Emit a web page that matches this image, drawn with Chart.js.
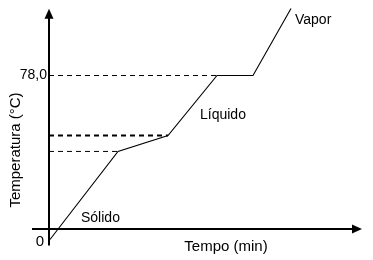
<!DOCTYPE html>
<html>
<head>
<meta charset="utf-8">
<script src="https://cdn.jsdelivr.net/npm/chart.js@4.4.1/dist/chart.umd.min.js"></script>
<style>
	body{ margin:0; background:#fff; }
	#grafico{ display:block; }
</style>
</head>
<body>
<canvas id="grafico" width="373" height="260"></canvas>
<script>
// curva de aquecimento
var tempo = [0.1, 6.9, 11.9, 16.8, 20.4, 24.2];
var temperatura = [-5.6, 39.3, 47.4, 78.0, 78.0, 112.2];

// linhas tracejadas (ate o ponto da curva)
var tracejadoY = [39.3, 47.4, 78.0];
var tracejadoX = [6.9, 11.9, 16.8];

var rotulosY = ['78,0'];
var valoresRotulosY = [78.0];
var fases = ['Sólido', 'Líquido', 'Vapor'];

var tituloX = 'Tempo (min)';
var tituloY = 'Temperatura (°C)';

var fonte = '"Liberation Sans", Arial, sans-serif';

function seta(ctx, x, y, dir){
	ctx.beginPath();
	if(dir == 'cima'){
		ctx.moveTo(x, y);
		ctx.lineTo(x-4.5, y+10);
		ctx.lineTo(x+4.5, y+10);
	} else {
		ctx.moveTo(x, y);
		ctx.lineTo(x-10, y-4.5);
		ctx.lineTo(x-10, y+4.5);
	}
	ctx.closePath();
	ctx.fill();
}

var eixos = {
	id: 'eixos',
	beforeDatasetsDraw: function(chart){
		var ctx = chart.ctx;
		var sx = chart.scales.x, sy = chart.scales.y;
		var x0 = Math.round(sx.getPixelForValue(0));
		var y0 = Math.round(sy.getPixelForValue(0));
		ctx.save();
		ctx.strokeStyle = '#000';
		ctx.fillStyle = '#000';
		ctx.lineWidth = 2;
		// eixo x
		ctx.beginPath();
		ctx.moveTo(sx.getPixelForValue(-1.7), y0);
		ctx.lineTo(sx.getPixelForValue(30.8), y0);
		ctx.stroke();
		seta(ctx, sx.getPixelForValue(31.3), y0, 'dir');
		// eixo y
		ctx.beginPath();
		ctx.moveTo(x0, sy.getPixelForValue(-8.7));
		ctx.lineTo(x0, sy.getPixelForValue(108));
		ctx.stroke();
		seta(ctx, x0, sy.getPixelForValue(112), 'cima');
		ctx.restore();
	},
	afterDraw: function(chart){
		var ctx = chart.ctx;
		var sx = chart.scales.x, sy = chart.scales.y;
		var x0 = sx.getPixelForValue(0);
		var y0 = sy.getPixelForValue(0);
		ctx.save();
		ctx.fillStyle = '#000';
		ctx.font = '14px ' + fonte;
		ctx.textBaseline = 'middle';
		ctx.textAlign = 'right';
		for(var i = 0; i < rotulosY.length; i++){
			ctx.fillText(rotulosY[i], x0 - 2, sy.getPixelForValue(valoresRotulosY[i]));
		}
		ctx.font = '15px ' + fonte;
		ctx.fillText('0', x0 - 5, y0 + 13);

		ctx.textAlign = 'left';
		ctx.font = '14px ' + fonte;
		ctx.fillText(fases[0], 81, 218);
		ctx.fillText(fases[1], 200, 115);
		ctx.fillText(fases[2], 295, 20);

		ctx.font = '15px ' + fonte;
		ctx.textAlign = 'center';
		ctx.fillText(tituloX, 226, 247);
		ctx.translate(16, 150);
		ctx.rotate(-Math.PI/2);
		ctx.fillText(tituloY, 0, 0);
		ctx.restore();
	}
};

var pontos = [];
for(var i = 0; i < tempo.length; i++){
	pontos.push({x: tempo[i], y: temperatura[i]});
}

var conjuntos = [{
	data: pontos,
	borderColor: '#000',
	borderWidth: 1.1,
	pointRadius: 0,
	showLine: true,
	fill: false
}];

for(var i = 0; i < tracejadoY.length; i++){
	conjuntos.push({
		data: [{x: 0, y: tracejadoY[i]}, {x: tracejadoX[i], y: tracejadoY[i]}],
		borderColor: '#000',
		borderWidth: i == 1 ? 2 : 1,
		borderDash: [5, 4],
		pointRadius: 0,
		showLine: true,
		fill: false
	});
}

new Chart(document.getElementById('grafico'), {
	type: 'scatter',
	data: { datasets: conjuntos },
	plugins: [eixos],
	options: {
		responsive: false,
		animation: false,
		devicePixelRatio: 1,
		layout: { padding: 0 },
		plugins: { legend: { display: false }, tooltip: { enabled: false } },
		scales: {
			x: { display: false, min: -4.9, max: 32.4 },
			y: { display: false, min: -16.05, max: 116.5 }
		}
	}
});
</script>
</body>
</html>
